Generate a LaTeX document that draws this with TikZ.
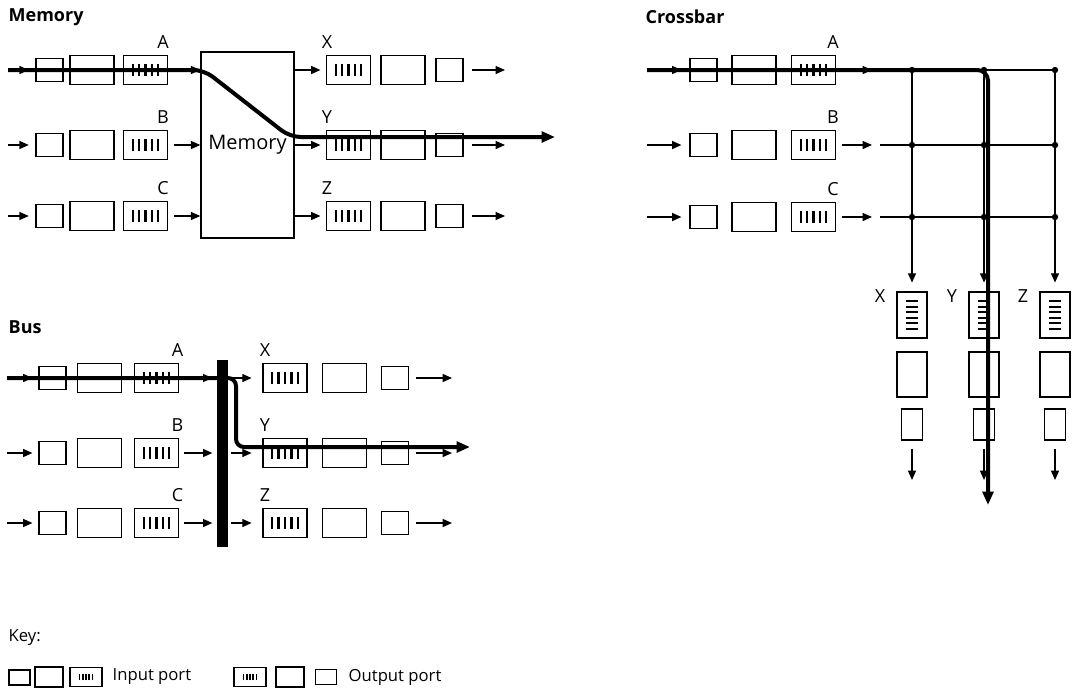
\documentclass[tikz,border=0pt]{standalone}
\usepackage{fontspec}
\setmainfont{Open Sans}
\usetikzlibrary{arrows.meta}
\tikzset{
  every picture/.style={line width=1pt},
  port/.style={draw, line width=1.1pt, inner sep=0pt},
  smallbox/.style={port, minimum width=20pt, minimum height=17pt},
  midbox/.style={port, minimum width=33pt, minimum height=21.75pt},
  hbuf/.style={port, minimum width=33pt, minimum height=21.75pt,
    path picture={\foreach \i in {-2,...,2}
      \draw[line width=1.7pt] ([xshift=\i*4.8pt, yshift=-4.5pt]path picture bounding box.center) -- ++(0,9pt);}},
  vbuf/.style={port, minimum width=22.5pt, minimum height=34.5pt,
    path picture={\foreach \i in {0,...,5}
      \draw[line width=1.6pt] ([xshift=-4.5pt, yshift=(\i-2.5)*4.1pt]path picture bounding box.center) -- ++(9pt,0);}},
  vmid/.style={port, minimum width=22.5pt, minimum height=33.75pt},
  vsmall/.style={port, minimum width=15.75pt, minimum height=23.25pt},
  keysmall/.style={port, line width=0.8pt, minimum width=15.75pt, minimum height=11.25pt},
  keymid/.style={port, line width=0.8pt, minimum width=21pt, minimum height=15pt},
  keybuf/.style={port, line width=0.8pt, minimum width=24pt, minimum height=14.25pt,
    path picture={\foreach \i in {-2,...,2}
      \draw[line width=0.9pt] ([xshift=\i*2.3pt, yshift=-2.6pt]path picture bounding box.center) -- ++(0,5.2pt);}},
  arrow/.style={-{Triangle[length=7pt, width=6pt]}},
  heavy/.style={line width=3pt, -{Triangle[length=10pt, width=8pt]}},
  title/.style={anchor=west, inner sep=0pt, font=\bfseries\fontsize{13.5}{16}\selectfont},
  lbl/.style={inner sep=0pt, font=\fontsize{13.5}{16}\selectfont},
  keytext/.style={anchor=west, inner sep=0pt, font=\fontsize{12.5}{15}\selectfont},
}
\begin{document}
\begin{tikzpicture}[x=0.75pt, y=-0.75pt]
  \useasboundingbox (0,0) rectangle (1077,690);
  % shared memory
  \node[title] (memtitle) at (8,17) {Memory};
  \node[draw, line width=1.1pt, minimum width=69.75pt, minimum height=139.5pt,
    font=\fontsize{15}{18}\selectfont] (mem) at (247.5,145) {Memory};
  \foreach \r/\o/\y in {A/X/70, B/Y/145, C/Z/216} {
    \coordinate (mi\r) at (8,\y);
    \node[smallbox] (m\r1) at (49.5,\y) {};
    \node[midbox] (m\r2) at (92,\y) {};
    \node[hbuf] (m\r3) at (145.5,\y) {};
    \node[lbl] (ml\r) at (163,\y-28) {\r};
    \node[hbuf] (m\o1) at (348.5,\y) {};
    \node[midbox] (m\o2) at (403,\y) {};
    \node[smallbox] (m\o3) at (449.5,\y) {};
    \node[lbl] (ml\o) at (327,\y-28) {\o};
    \coordinate (mo\o) at (505,\y);
    \draw[arrow, shorten >=5pt] (mi\r) -- (m\r1);
    \draw[arrow, shorten <=4.5pt] (m\r3) -- (m\r3 -| mem.west);
    \draw[arrow, shorten >=4pt] (mem.east |- m\o1) -- (m\o1);
    \draw[arrow, shorten <=6.5pt] (m\o3) -- (mo\o);
  }
  \coordinate (mpY) at (555,137);
  \draw[heavy, rounded corners=8pt] (miA) -- (204,70) -- (290,137) -- (mpY);

  % bus
  \node[title] (bustitle) at (8,327) {Bus};
  \node[fill, inner sep=0pt, minimum width=8.25pt, minimum height=140.25pt] (bus) at (222.5,453.5) {};
  \foreach \r/\o/\y in {A/X/378, B/Y/453, C/Z/523} {
    \coordinate (bi\r) at (7,\y);
    \node[smallbox] (b\r1) at (52.5,\y) {};
    \node[midbox] (b\r2) at (99.5,\y) {};
    \node[hbuf] (b\r3) at (156.5,\y) {};
    \node[lbl] (bl\r) at (177.5,\y-28) {\r};
    \node[hbuf] (b\o1) at (285,\y) {};
    \node[midbox] (b\o2) at (344.5,\y) {};
    \node[smallbox] (b\o3) at (395,\y) {};
    \node[lbl] (bl\o) at (265,\y-28) {\o};
    \coordinate (bo\o) at (452,\y);
    \draw[arrow, shorten >=4.5pt] (bi\r) -- (b\r1);
    \draw[arrow, shorten <=3.5pt, shorten >=3pt] (b\r3) -- (b\r3 -| bus.west);
    \draw[arrow, shorten <=1.5pt, shorten >=8pt] (bus.east |- b\o1) -- (b\o1);
    \draw[arrow, shorten <=5pt] (b\o3) -- (bo\o);
  }
  \coordinate (bpY) at (470,447);
  \draw[heavy, rounded corners=6pt] (biA) -- (236,378) -- (236,447) -- (bpY);

  % crossbar
  \node[title] (xbtitle) at (645,17) {Crossbar};
  \foreach \r/\y in {A/70, B/145, C/217} {
    \coordinate (ci\r) at (647,\y);
    \node[smallbox] (c\r1) at (703.5,\y) {};
    \node[midbox] (c\r2) at (754,\y) {};
    \node[hbuf] (c\r3) at (813.5,\y) {};
    \node[lbl] (cl\r) at (833,\y-28) {\r};
    \coordinate (cs\r) at (880,\y);
    \coordinate (ce\r) at (1055,\y);
    \draw[arrow, shorten >=6pt] (ci\r) -- (c\r1);
    \draw[arrow, shorten <=4.5pt, shorten >=6pt] (c\r3) -- (cs\r);
    \draw (cs\r) -- (ce\r);
  }
  \foreach \o/\x in {X/912, Y/984, Z/1055} {
    \coordinate (ct\o) at (\x,70);
    \node[vbuf] (c\o1) at (\x,315) {};
    \node[vmid] (c\o2) at (\x,374.5) {};
    \node[vsmall] (c\o3) at (\x,424.5) {};
    \node[lbl] (cl\o) at (\x-32,296) {\o};
    \coordinate (co\o) at (\x,480);
    \draw[arrow, shorten >=6.5pt] (ct\o) -- (c\o1);
    \draw[arrow, shorten <=6pt] (c\o3) -- (co\o);
    \foreach \r in {A,B,C}
      \fill (ct\o |- cs\r) circle (2.4pt);
  }
  \coordinate (cpY) at (988,505);
  \draw[heavy, rounded corners=8pt] (ciA) -- (988,70) -- (cpY);

  % key
  \node[keytext] (keytitle) at (8,638) {Key:};
  \node[keysmall] (ki1) at (19.5,677.5) {};
  \node[keymid] (ki2) at (49,677) {};
  \node[keybuf] (ki3) at (86,677) {};
  \node[keytext] (kin) at (112,677) {Input port};
  \node[keybuf] (ko1) at (250,677) {};
  \node[keymid] (ko2) at (290,677) {};
  \node[keysmall] (ko3) at (326,677) {};
  \node[keytext] (kout) at (348,677) {Output port};
\end{tikzpicture}
\end{document}
